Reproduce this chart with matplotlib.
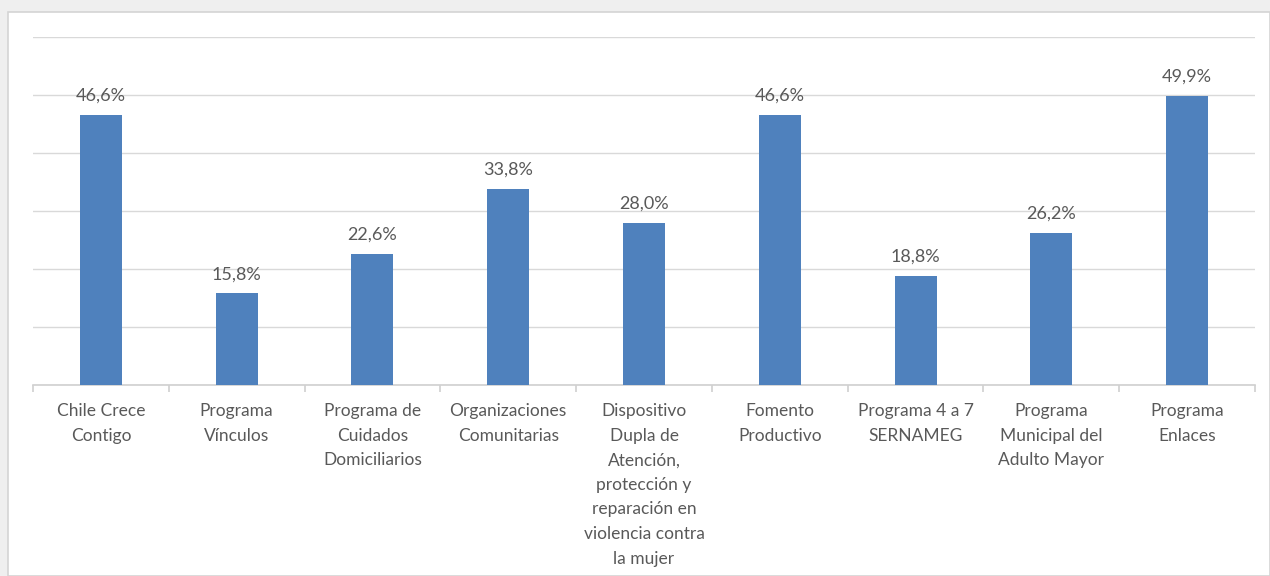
import numpy as np
import matplotlib.pyplot as plt
from matplotlib.patches import Rectangle

plt.rcParams['font.family'] = ['Lato', 'DejaVu Sans']

# Datos del grafico
programas = [
    'Chile Crece\nContigo',
    'Programa\nVínculos',
    'Programa de\nCuidados\nDomiciliarios',
    'Organizaciones\nComunitarias',
    'Dispositivo\nDupla de\nAtención,\nprotección y\nreparación en\nviolencia contra\nla mujer',
    'Fomento\nProductivo',
    'Programa 4 a 7\nSERNAMEG',
    'Programa\nMunicipal del\nAdulto Mayor',
    'Programa\nEnlaces',
]
porcentajes = [46.6, 15.8, 22.6, 33.8, 28.0, 46.6, 18.8, 26.2, 49.9]

fig = plt.figure(figsize=(12.7, 5.76), dpi=100)
fig.patch.set_facecolor('#efefef')
# area blanca del grafico
fig.patches.append(Rectangle((8 / 1270, 0), 1 - 8 / 1270, 1 - 12 / 576,
                             transform=fig.transFigure, facecolor='white',
                             edgecolor='#d4d4d4', linewidth=1.2, zorder=-10))

ax = fig.add_axes([33 / 1270, 191 / 576, 1222 / 1270, 348 / 576])
ax.set_facecolor('none')

x = np.arange(len(programas))
bars = ax.bar(x, porcentajes, width=0.31, color='#4f81bd', zorder=3)

for b, v in zip(bars, porcentajes):
    ax.annotate(f'{v:.1f}%'.replace('.', ','), (b.get_x() + b.get_width() / 2, v),
                xytext=(0, 8), textcoords='offset points', ha='center', va='bottom',
                fontsize=13, color='#595959')

ax.set_xlim(-0.5, len(programas) - 0.5)
ax.set_ylim(0, 60)
ax.set_yticks(np.arange(0, 61, 10))
ax.yaxis.grid(True, color='#d9d9d9', linewidth=1)
ax.tick_params(axis='y', left=False, labelleft=False)

for s in ['top', 'right', 'left']:
    ax.spines[s].set_visible(False)
ax.spines['bottom'].set_color('#d0d0d0')
ax.spines['bottom'].set_linewidth(1.2)

ax.set_xticks(x)
ax.set_xticklabels(programas, fontsize=12.5, color='#595959', linespacing=1.66)
ax.tick_params(axis='x', length=0, pad=13)
ax.set_xticks(np.arange(-0.5, len(programas), 1), minor=True)
ax.tick_params(axis='x', which='minor', length=5, color='#d0d0d0', width=1.2)

fig.savefig('out.png', dpi=100, facecolor=fig.get_facecolor())
